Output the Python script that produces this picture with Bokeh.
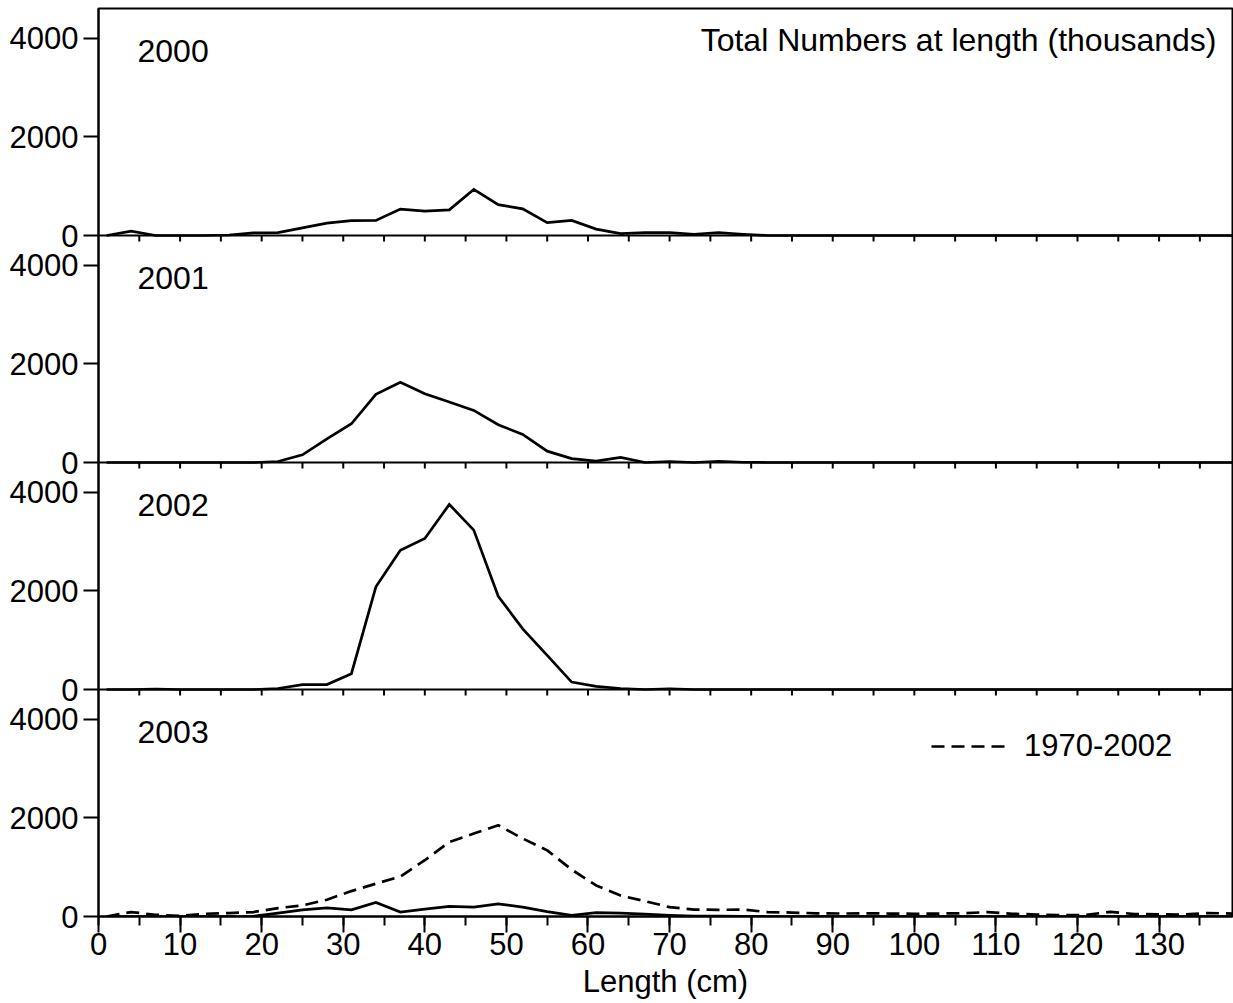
from bokeh.plotting import figure
from bokeh.models import (Range1d, LinearAxis, FixedTicker, SingleIntervalTicker,
                          Span, Label, Legend, LegendItem)
from bokeh.embed import file_html
from bokeh.resources import INLINE

# ---------------- data ----------------
length_cm = list(range(1, 140, 3))  # 1, 4, ..., 139

n2000 = [0, 90, 0, 0, 0, 10, 55, 60, 155, 250, 300, 305, 535, 495, 520, 935,
         625, 540, 260, 305, 130, 40, 60, 60, 25, 60, 25, 0,
         0, 0, 0, 0, 0, 0, 0, 0, 0, 0, 0, 0, 0, 0, 0, 0, 0, 0, 0]
n2001 = [0, 0, 0, 0, 0, 0, 0, 20, 155, 480, 785, 1380, 1625, 1395, 1225, 1055,
         765, 570, 230, 80, 30, 105, 0, 20, 0, 25, 5, 0,
         0, 0, 0, 0, 0, 0, 0, 0, 0, 0, 0, 0, 0, 0, 0, 0, 0, 0, 0]
n2002 = [0, 0, 10, 0, 0, 0, 0, 20, 100, 100, 320, 2080, 2820, 3060, 3750, 3230,
         1890, 1230, 690, 150, 65, 20, 0, 15, 0, 0, 0, 0,
         0, 0, 0, 0, 0, 0, 0, 0, 0, 0, 0, 0, 0, 0, 0, 0, 0, 0, 0]
n2003 = [0, 0, 0, 0, 0, 0, 5, 70, 135, 175, 135, 285, 90, 150, 205, 190,
         255, 190, 100, 25, 80, 70, 50, 25, 10, 10, 5, 0,
         0, 0, 0, 0, 0, 0, 0, 0, 0, 0, 0, 0, 0, 0, 0, 0, 0, 0, 0]
mean_1970_2002 = [0, 90, 35, 10, 55, 70, 90, 170, 225, 340, 515, 665, 810, 1140,
                  1510, 1680, 1850, 1580, 1340, 950, 630, 425, 310, 190, 140,
                  135, 140, 90, 80, 65, 60, 65, 60, 55, 60, 65, 90, 55, 40, 25,
                  30, 95, 50, 45, 40, 70, 60]

years = ["2000", "2001", "2002", "2003"]
series = [n2000, n2001, n2002, n2003]
y_tick_values = [0, 2000, 4000]
x_max = 139
y_max = 4600
title_text = "Total Numbers at length (thousands)"
legend_text = "1970-2002"
x_label = "Length (cm)"

# ---------------- style ----------------
FONT = "Liberation Sans"
FS = "31px"
PANEL_H = 227
FRAME_W = 1134
n_pan = len(years)
total = y_max * n_pan
units_per_px = y_max / PANEL_H
cm_per_px = x_max / FRAME_W

p = figure(frame_width=FRAME_W, frame_height=PANEL_H * n_pan,
           x_range=Range1d(0, x_max), y_range=Range1d(0, total),
           output_backend="svg", toolbar_location=None,
           x_axis_location=None, y_axis_location=None,
           min_border_left=98, min_border_right=1,
           min_border_top=8, min_border_bottom=0)
p.outline_line_color = "black"
p.outline_line_width = 2
p.background_fill_color = "white"
p.border_fill_color = "white"
p.grid.grid_line_color = None

offsets = [(n_pan - 1 - i) * y_max for i in range(n_pan)]
p.extra_y_ranges = {f"pan{i}": Range1d(-off, total - off) for i, off in enumerate(offsets)}

for i, (yr, vals) in enumerate(zip(years, series)):
    p.line(length_cm, vals, y_range_name=f"pan{i}", line_color="black",
           line_width=2.7, line_join="miter")

r_mean = p.line(length_cm, mean_1970_2002, y_range_name=f"pan{n_pan-1}",
                line_color="black", line_width=2.7, line_dash="13 7")

# panel boundaries and downward ticks
tick_x = list(range(5, x_max, 5))
tick_len = 6 * units_per_px
for off in offsets[:-1]:
    p.add_layout(Span(location=off, dimension="width", line_color="black", line_width=2))
    p.segment(x0=tick_x, y0=[off] * len(tick_x), x1=tick_x,
              y1=[off - tick_len] * len(tick_x), line_color="black", line_width=2)

# y axis
ticks = []
overrides = {}
for off in offsets:
    for v in y_tick_values:
        ticks.append(off + v)
        overrides[off + v] = str(v)
yaxis = LinearAxis(ticker=FixedTicker(ticks=ticks, minor_ticks=[]),
                   major_label_overrides=overrides)
yaxis.axis_line_width = 2
yaxis.major_tick_line_width = 2
yaxis.major_tick_out = 15
yaxis.major_tick_in = 0
yaxis.minor_tick_out = 0
yaxis.minor_tick_in = 0
yaxis.major_label_standoff = 5
yaxis.major_label_text_font = FONT
yaxis.major_label_text_font_size = FS
yaxis.major_label_text_color = "black"
p.add_layout(yaxis, "left")

# x axis
xaxis = LinearAxis(ticker=SingleIntervalTicker(interval=10, num_minor_ticks=2),
                   axis_label=x_label)
xaxis.axis_line_width = 2
xaxis.major_tick_line_width = 2
xaxis.minor_tick_line_width = 2
xaxis.major_tick_out = 16
xaxis.major_tick_in = 0
xaxis.minor_tick_out = 9
xaxis.minor_tick_in = 0
xaxis.major_label_standoff = 0
xaxis.major_label_text_font = FONT
xaxis.major_label_text_font_size = FS
xaxis.major_label_text_color = "black"
xaxis.axis_label_standoff = 6
xaxis.axis_label_text_font = FONT
xaxis.axis_label_text_font_size = FS
xaxis.axis_label_text_font_style = "normal"
xaxis.axis_label_text_color = "black"
p.add_layout(xaxis, "below")

# panel labels (positions in px above each panel's baseline)
LABEL_RISE = 173 + 12
TITLE_RISE = 184 + 12
for yr, off in zip(years, offsets):
    p.add_layout(Label(x=39 * cm_per_px, y=off + LABEL_RISE * units_per_px,
                       text=yr, text_font=FONT, text_font_size="32px",
                       text_baseline="alphabetic", text_align="left", text_color="black"))

p.add_layout(Label(x=1118 * cm_per_px, y=offsets[0] + TITLE_RISE * units_per_px,
                   text=title_text, text_font=FONT, text_font_size="32px",
                   text_baseline="alphabetic", text_align="right", text_color="black"))

legend = Legend(items=[LegendItem(label=legend_text, renderers=[r_mean])],
                location=(833, 152), orientation="vertical",
                glyph_width=75, glyph_height=30, label_standoff=18,
                padding=0, margin=0, spacing=0,
                border_line_alpha=0, background_fill_alpha=0,
                label_text_font=FONT, label_text_font_size=FS,
                label_text_color="black", label_height=30)
p.add_layout(legend)

html = file_html(p, INLINE)
html = html.replace("</head>", "<style>html, body { overflow: hidden; }</style></head>", 1)
open("out.html", "w").write(html)
